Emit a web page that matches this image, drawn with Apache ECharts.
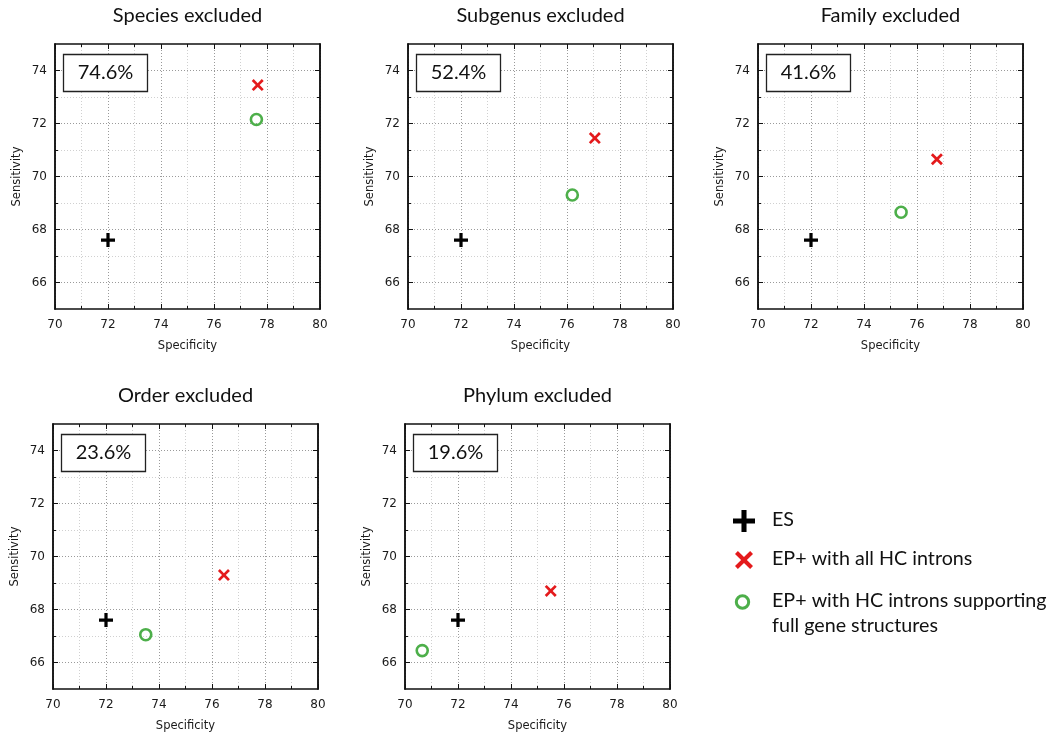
<!DOCTYPE html>
<html>
<head>
<meta charset="utf-8">
<title>Sensitivity vs specificity by excluded taxon</title>
<script src="https://cdn.jsdelivr.net/npm/echarts@6/dist/echarts.min.js"></script>
<style>
  html, body { margin: 0; padding: 0; background: #fff; }
  #chart { width: 1052px; height: 734px; }
</style>
</head>
<body>
<div id="chart"></div>
<script>
// Panel headings and the share shown in each panel's corner box
const panelTitles = ['Species excluded', 'Subgenus excluded', 'Family excluded', 'Order excluded', 'Phylum excluded'];
const percentLabels = ['74.6%', '52.4%', '41.6%', '23.6%', '19.6%'];

// ES
const esSpecificity = [72.0, 72.0, 72.0, 72.0, 72.0];
const esSensitivity = [67.6, 67.6, 67.6, 67.6, 67.6];
// EP+ with all HC introns
const allHcSpecificity = [77.65, 77.05, 76.75, 76.45, 75.5];
const allHcSensitivity = [73.45, 71.45, 70.65, 69.3, 68.7];
// EP+ with HC introns supporting full gene structures
const fullHcSpecificity = [77.6, 76.2, 75.4, 73.5, 70.65];
const fullHcSensitivity = [72.15, 69.3, 68.65, 67.05, 66.45];

const seriesNames = ['ES', 'EP+ with all HC introns', 'EP+ with HC introns supporting full gene structures'];
const legendLines = ['ES', 'EP+ with all HC introns', 'EP+ with HC introns supporting\nfull gene structures'];

// Axis ranges and ticks
const xMin = 70, xMax = 80, xStep = 2;
const yMin = 65, yMax = 75;
const yMajorTicks = [66, 68, 70, 72, 74];
const yMinorTicks = [67, 69, 71, 73];

const BLACK = '#000000', RED = '#e41a1c', GREEN = '#4daf4a';

// Marker outlines on a 10x10 box
const plusShape = [[3.85, 0], [6.15, 0], [6.15, 3.85], [10, 3.85], [10, 6.15], [6.15, 6.15], [6.15, 10],
  [3.85, 10], [3.85, 6.15], [0, 6.15], [0, 3.85], [3.85, 3.85]];
const crossShape = [[0, 1.6], [1.6, 0], [5, 3.4], [8.4, 0], [10, 1.6], [6.6, 5], [10, 8.4], [8.4, 10],
  [5, 6.6], [1.6, 10], [0, 8.4], [3.4, 5]];
const toPath = pts => 'path://M' + pts.map(p => p[0] + ',' + p[1]).join('L') + 'Z';
const placeShape = (pts, cx, cy, size) => pts.map(p => [cx + (p[0] - 5) * size / 10, cy + (p[1] - 5) * size / 10]);

// Plot frames: [left, top] in px, all square
const frames = [[55, 44], [408, 44], [758, 44], [53, 424], [405, 424]];
const frameSize = 265;

const tickFont = { fontFamily: 'DejaVu Sans', fontSize: 12, color: '#1a1a1a' };
const nameFont = { fontFamily: 'DejaVu Sans', fontSize: 11.5, color: '#1a1a1a' };
const frameLine = { show: true, onZero: false, lineStyle: { color: '#111', width: 1.5 } };
const ticks = { show: true, inside: true, length: 5, lineStyle: { color: '#111', width: 1 } };
const minorTicks = { show: true, splitNumber: 2, length: 3, lineStyle: { color: '#111', width: 1 } };
const majorGridStyle = { color: '#9a9a9a', width: 1, type: [1, 2] };
const minorGridStyle = { color: '#d0d0d0', width: 1, type: [1, 2] };

const grids = [], xAxes = [], yAxes = [], series = [], titles = [], graphics = [];

frames.forEach(([left, top], i) => {
  grids.push({ left: left, top: top, width: frameSize, height: frameSize });

  // bottom axis with labels, mirrored top axis with ticks only
  xAxes.push({
    type: 'value', gridIndex: i, position: 'bottom', min: xMin, max: xMax, interval: xStep,
    name: 'Specificity', nameLocation: 'middle', nameGap: 31, nameTextStyle: nameFont,
    axisLine: frameLine, axisTick: ticks, minorTick: minorTicks,
    axisLabel: Object.assign({ margin: 10 }, tickFont),
    splitLine: { show: true, lineStyle: majorGridStyle },
    minorSplitLine: { show: true, lineStyle: minorGridStyle }
  });
  xAxes.push({
    type: 'value', gridIndex: i, position: 'top', min: xMin, max: xMax, interval: xStep,
    axisLine: frameLine, axisTick: ticks, minorTick: minorTicks,
    axisLabel: { show: false }, splitLine: { show: false }
  });

  // y: even values carry labels and long ticks, odd values short ticks; both sides of the frame
  const yBase = { type: 'value', gridIndex: i, min: yMin, max: yMax, axisLine: frameLine };
  yAxes.push(Object.assign({}, yBase, {
    position: 'left',
    name: 'Sensitivity', nameLocation: 'middle', nameGap: 32, nameTextStyle: nameFont,
    axisTick: Object.assign({ customValues: yMajorTicks }, ticks),
    axisLabel: Object.assign({ margin: 8, customValues: yMajorTicks }, tickFont),
    splitLine: { show: true, lineStyle: majorGridStyle }
  }));
  yAxes.push(Object.assign({}, yBase, {
    position: 'left',
    axisTick: Object.assign({}, ticks, { length: 3, customValues: yMinorTicks }),
    axisLabel: { show: false },
    splitLine: { show: true, lineStyle: minorGridStyle }
  }));
  yAxes.push(Object.assign({}, yBase, {
    position: 'right',
    axisTick: Object.assign({ customValues: yMajorTicks }, ticks),
    axisLabel: { show: false }, splitLine: { show: false }
  }));
  yAxes.push(Object.assign({}, yBase, {
    position: 'right',
    axisTick: Object.assign({}, ticks, { length: 3, customValues: yMinorTicks }),
    axisLabel: { show: false }, splitLine: { show: false }
  }));

  const ax = { xAxisIndex: 2 * i, yAxisIndex: 4 * i };
  series.push(Object.assign({
    name: seriesNames[0], type: 'scatter', symbol: toPath(plusShape), symbolSize: 14,
    itemStyle: { color: BLACK, opacity: 1 }, data: [[esSpecificity[i], esSensitivity[i]]], z: 5
  }, ax));
  series.push(Object.assign({
    name: seriesNames[1], type: 'scatter', symbol: toPath(crossShape), symbolSize: 12,
    itemStyle: { color: RED, opacity: 1 }, data: [[allHcSpecificity[i], allHcSensitivity[i]]], z: 5
  }, ax));
  series.push(Object.assign({
    name: seriesNames[2], type: 'scatter', symbol: 'circle', symbolSize: 11,
    itemStyle: { color: 'rgba(0,0,0,0)', borderColor: GREEN, borderWidth: 2.6, opacity: 1 },
    data: [[fullHcSpecificity[i], fullHcSensitivity[i]]], z: 5
  }, ax));

  titles.push({
    text: panelTitles[i], left: left + frameSize / 2, top: top - 38, textAlign: 'center', padding: 0,
    textStyle: { fontFamily: 'Lato', fontSize: 20, fontWeight: 'normal', color: '#111' }
  });

  // corner box with the percentage
  graphics.push({
    type: 'rect', shape: { x: left + 8.5, y: top + 10.5, width: 84, height: 37 }, z: 10,
    style: { fill: '#fff', stroke: '#222', lineWidth: 1.3 }
  });
  graphics.push({
    type: 'text', x: left + 8.5 + 42, y: top + 10.5 + 18.5, z: 11,
    style: { text: percentLabels[i], fill: '#111', font: '20px Lato', align: 'center', verticalAlign: 'middle' }
  });
});

// Legend at lower right
graphics.push({ type: 'polygon', shape: { points: placeShape(plusShape, 744, 521, 22) }, style: { fill: BLACK } });
graphics.push({ type: 'polygon', shape: { points: placeShape(crossShape, 744, 560, 18) }, style: { fill: RED } });
graphics.push({ type: 'circle', shape: { cx: 742.5, cy: 602, r: 6.2 }, style: { fill: 'none', stroke: GREEN, lineWidth: 3 } });
const legendTextTops = [507, 546, 588];
legendLines.forEach((t, k) => {
  graphics.push({
    type: 'text', x: 772, y: legendTextTops[k],
    style: { text: t, fill: '#111', font: '19.7px Lato', lineHeight: 25, align: 'left', verticalAlign: 'top' }
  });
});

const chart = echarts.init(document.getElementById('chart'), null, { renderer: 'canvas' });
chart.setOption({
  animation: false,
  backgroundColor: '#ffffff',
  title: titles,
  grid: grids,
  xAxis: xAxes,
  yAxis: yAxes,
  series: series,
  graphic: graphics
});
</script>
</body>
</html>
